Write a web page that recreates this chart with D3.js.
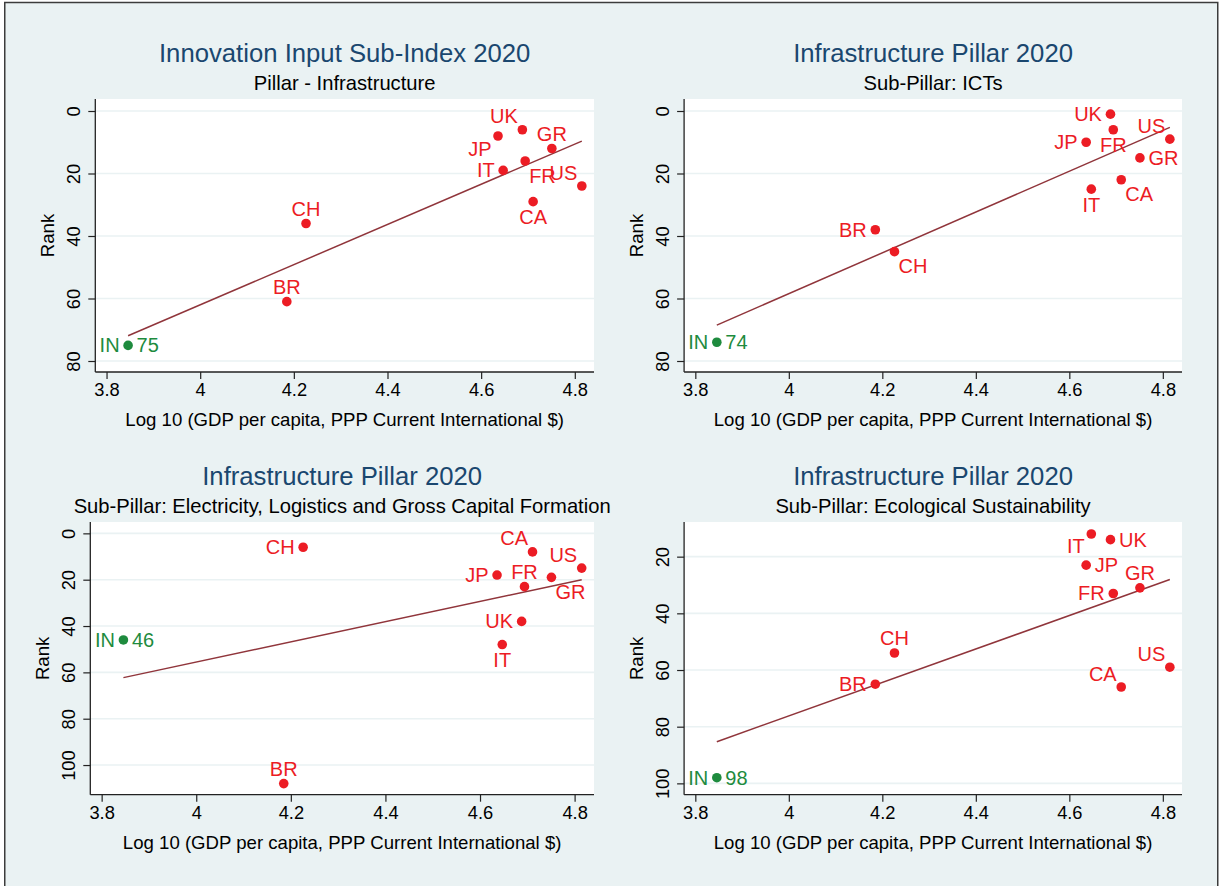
<!DOCTYPE html>
<html><head><meta charset="utf-8">
<script src="https://cdn.jsdelivr.net/npm/d3@7"></script>
<style>
body{margin:0;background:#fff}
text{font-family:"Liberation Sans",Arial,Helvetica,sans-serif}
</style>
</head><body>
<svg id="chart" width="1219" height="886"></svg>
<script>
// ---------------- data ----------------
const countries = ["IN","BR","CH","JP","IT","UK","FR","CA","GR","US"];
const logGdp    = [3.846, 4.185, 4.226, 4.636, 4.647, 4.688, 4.694, 4.711, 4.751, 4.815];
const rankInfrastructure = [75, 61, 36, 8, 19, 6, 16, 29, 12, 24];
const rankICTs           = [74, 38, 45, 10, 25, 1, 6, 22, 15, 9];
const rankElectricity    = [46, 108, 6, 18, 48, 38, 23, 8, 19, 15];
const rankEcological     = [98, 65, 54, 23, 12, 14, 33, 66, 31, 59];
const panelTitles    = ["Innovation Input Sub-Index 2020","Infrastructure Pillar 2020","Infrastructure Pillar 2020","Infrastructure Pillar 2020"];
const panelSubtitles = ["Pillar - Infrastructure","Sub-Pillar: ICTs","Sub-Pillar: Electricity, Logistics and Gross Capital Formation","Sub-Pillar: Ecological Sustainability"];
const xTicks = [3.8, 4, 4.2, 4.4, 4.6, 4.8];
const yTicksA = [0, 20, 40, 60, 80];
const yTicksB = [0, 20, 40, 60, 80, 100];
const yTicksC = [20, 40, 60, 80, 100];
const xTitle = "Log 10 (GDP per capita, PPP Current International $)";
const yTitle = "Rank";
const focusCountry = "IN";
// marker-label clock positions (Stata mlabvposition)
const clockInfra = [9, 12, 12, 7, 9, 11, 5, 6, 12, 11];
const clockICTs  = [9, 9, 5, 9, 6, 9, 6, 5, 3, 11];
const clockElec  = [9, 12, 9, 9, 6, 9, 12, 11, 5, 11];
const clockEco   = [9, 9, 12, 3, 7, 3, 9, 11, 12, 11];

// ---------------- layout / style ----------------
const svg = d3.select("#chart");
const BG = "#EAF2F3", RED = "#EC1C24", GREEN = "#1E8B3E", FIT = "#90353B", NAVY = "#1A476F";

svg.append("rect").attr("x",4.75).attr("y",2.5).attr("width",1213).attr("height",900)
  .attr("fill",BG).attr("stroke","#3c3c3c").attr("stroke-width",1.5);

const panels = [
  {ranks: rankInfrastructure, clock: clockInfra, yDomain:[-3.84, 83.52], yTicks:yTicksA, box:{l:95.3,r:594,t:99,b:372}},
  {ranks: rankICTs,           clock: clockICTs,  yDomain:[-3.84, 83.52], yTicks:yTicksA, box:{l:684.1,r:1182,t:99,b:372}},
  {ranks: rankElectricity,    clock: clockElec,  yDomain:[-4.9, 112.8],  yTicks:yTicksB, box:{l:90.3,r:594,t:522,b:794.7}},
  {ranks: rankEcological,     clock: clockEco,   yDomain:[7.77, 104.0],  yTicks:yTicksC, box:{l:684.1,r:1182,t:522,b:794.7}}
];
const xDomain = [3.776, 4.841];

function labelPos(pos){
  switch(pos){
    case 3:  return {dx: 8.5, dy: 7,    a:"start"};
    case 9:  return {dx:-8.5, dy: 7,    a:"end"};
    case 12: return {dx: 0,   dy:-8,    a:"middle"};
    case 6:  return {dx: 0,   dy:22.5,  a:"middle"};
    case 11: return {dx:-4.5, dy:-6.5,  a:"end"};
    case 1:  return {dx: 4.5, dy:-6.5,  a:"start"};
    case 5:  return {dx: 4,   dy:21.5,  a:"start"};
    case 7:  return {dx:-6.5, dy:19.5,  a:"end"};
  }
}

panels.forEach((p, pi) => {
  const B = p.box;
  const g = svg.append("g");
  const x = d3.scaleLinear().domain(xDomain).range([B.l, B.r]);
  const y = d3.scaleLinear().domain(p.yDomain).range([B.t, B.b]);
  const cx = (B.l + B.r) / 2;

  // titles
  g.append("text").attr("x",cx).attr("y",B.t-37).attr("text-anchor","middle")
    .attr("font-size",25.7).attr("fill",NAVY).text(panelTitles[pi]);
  g.append("text").attr("x",cx).attr("y",B.t-9).attr("text-anchor","middle")
    .attr("font-size",20.2).attr("fill","#000").text(panelSubtitles[pi]);

  // plot region
  g.append("rect").attr("x",B.l).attr("y",B.t).attr("width",B.r-B.l).attr("height",B.b-B.t).attr("fill","#fff");

  // gridlines
  g.selectAll("line.grid").data(p.yTicks).enter().append("line")
    .attr("x1",B.l).attr("x2",B.r).attr("y1",d=>y(d)).attr("y2",d=>y(d))
    .attr("stroke",BG).attr("stroke-width",1.6);

  // axes
  const xAxis = d3.axisBottom(x).tickValues(xTicks).tickSize(7).tickSizeOuter(0).tickFormat(d3.format("~g"));
  const gx = g.append("g").attr("transform",`translate(0,${B.b})`).call(xAxis);
  gx.select(".domain").attr("stroke","#222").attr("stroke-width",1.3).attr("d",`M${B.l},0H${B.r}`);
  gx.selectAll(".tick line").attr("stroke","#222").attr("stroke-width",1.2);
  gx.selectAll(".tick text").attr("font-size",18.3).attr("fill","#000").attr("dy",null).attr("y",24)
    .attr("font-family",'"Liberation Sans",Arial,sans-serif');

  const yAxis = d3.axisLeft(y).tickValues(p.yTicks).tickSize(7).tickSizeOuter(0);
  const gy = g.append("g").attr("transform",`translate(${B.l},0)`).call(yAxis);
  gy.select(".domain").attr("stroke","#222").attr("stroke-width",1.3).attr("d",`M0,${B.t}V${B.b}`);
  gy.selectAll(".tick line").attr("stroke","#222").attr("stroke-width",1.2);
  gy.selectAll(".tick text").attr("font-size",18.3).attr("fill","#000")
    .attr("x",null).attr("dy",null).attr("text-anchor","middle")
    .attr("transform","translate(-15,0) rotate(-90)").attr("y",0)
    .attr("font-family",'"Liberation Sans",Arial,sans-serif');

  // axis titles
  g.append("text").attr("x",cx).attr("y",B.b+54).attr("text-anchor","middle")
    .attr("font-size",18.6).attr("fill","#000").text(xTitle);
  g.append("text").attr("transform",`translate(${B.l-41},${(B.t+B.b)/2}) rotate(-90)`)
    .attr("text-anchor","middle").attr("font-size",18.6).attr("fill","#000").text(yTitle);

  // regression fit
  const pts = countries.map((c,i)=>({c, x:logGdp[i], y:p.ranks[i], clock:p.clock[i]}));
  const mx = d3.mean(pts,d=>d.x), my = d3.mean(pts,d=>d.y);
  const sxy = d3.sum(pts,d=>(d.x-mx)*(d.y-my)), sxx = d3.sum(pts,d=>(d.x-mx)**2);
  const slope = sxy/sxx, icpt = my - slope*mx;
  const [xmin,xmax] = d3.extent(pts,d=>d.x);
  g.append("path").datum([xmin,xmax])
    .attr("d", d3.line().x(d=>x(d)).y(d=>y(icpt+slope*d)))
    .attr("stroke",FIT).attr("stroke-width",1.5).attr("fill","none");

  // markers
  g.selectAll("circle.pt").data(pts).enter().append("circle")
    .attr("cx",d=>x(d.x)).attr("cy",d=>y(d.y)).attr("r",4.8)
    .attr("fill",d=>d.c===focusCountry?GREEN:RED);

  // labels
  pts.forEach(d=>{
    const L = labelPos(d.clock);
    const col = d.c===focusCountry?GREEN:RED;
    g.append("text").attr("x",x(d.x)+L.dx).attr("y",y(d.y)+L.dy).attr("text-anchor",L.a)
      .attr("font-size",20).attr("fill",col).text(d.c);
    if(d.c===focusCountry){
      const R = labelPos(3);
      g.append("text").attr("x",x(d.x)+R.dx).attr("y",y(d.y)+R.dy).attr("text-anchor",R.a)
        .attr("font-size",20).attr("fill",col).text(d.y);
    }
  });
});
</script>
</body></html>
